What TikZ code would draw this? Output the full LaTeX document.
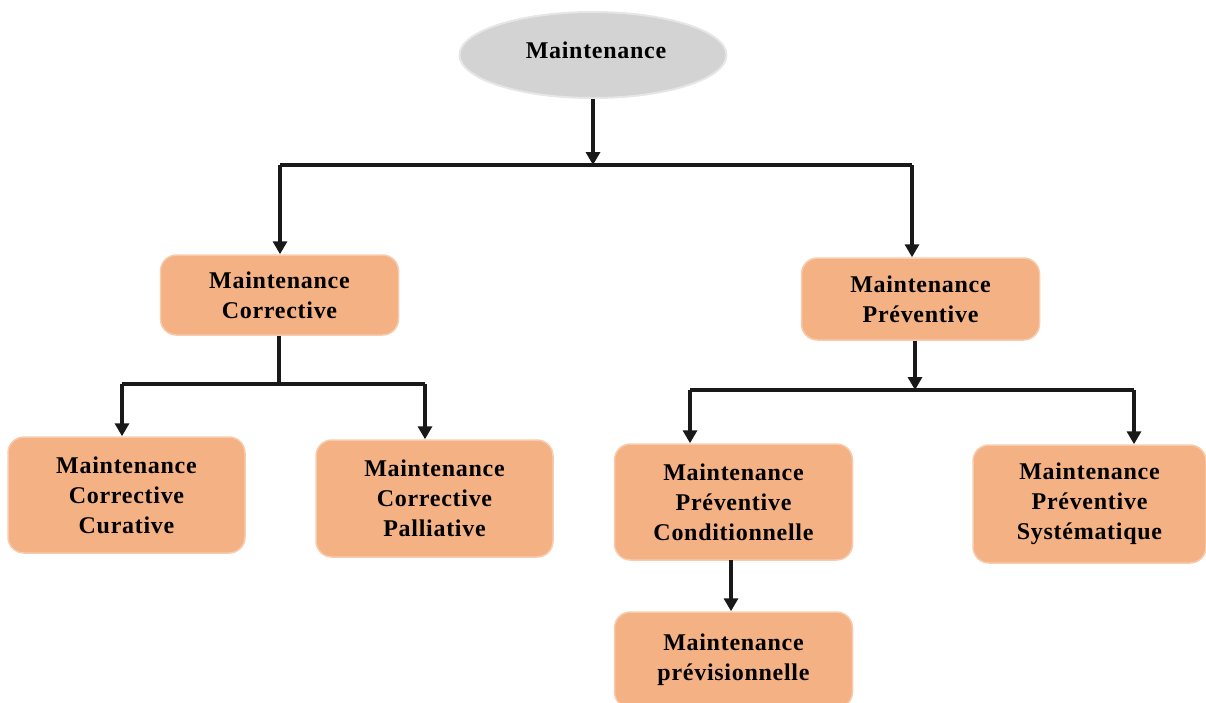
\documentclass[tikz,border=0pt]{standalone}
\usepackage{fontspec}
\setmainfont{Liberation Serif}
\newfontfamily\lblfont[LetterSpace=3]{Liberation Serif}
\usetikzlibrary{arrows.meta,shapes.geometric}
\definecolor{boxfill}{HTML}{F4B183}
\definecolor{boxline}{HTML}{F8CBAD}
\definecolor{ellfill}{HTML}{D3D3D3}
\definecolor{ellline}{HTML}{E6E6E6}
\tikzset{
  lbl/.style={font=\lblfont\fontsize{24}{30}\selectfont\bfseries},
  box/.style={draw=boxline, line width=1.5pt, fill=boxfill, rounded corners=16pt,
    minimum width=238pt, align=center, lbl, inner sep=0pt},
  conn/.style={line width=3.8pt, black!90},
  arr/.style={conn, -{Triangle[length=13pt,width=14pt]}},
}
\begin{document}
\begin{tikzpicture}[x=1pt,y=-1pt]
\useasboundingbox (0,0) rectangle (1206,702);
\node[ellipse, draw=ellline, line width=2pt, fill=ellfill, minimum width=267pt, minimum height=86pt] (root) at (593,55) {};
\node[lbl] (roottext) at (596,50) {Maintenance};
\node[box, minimum height=80pt] (mc) at (279.5,295) {Maintenance\\Corrective};
\node[box, minimum height=82pt] (mp) at (920.5,299) {Maintenance\\Préventive};
\node[box, minimum width=237pt, minimum height=116pt] (mcc) at (126.5,495) {Maintenance\\Corrective\\Curative};
\node[box, minimum width=237pt, minimum height=117pt] (mcp) at (434.5,498.5) {Maintenance\\Corrective\\Palliative};
\node[box, minimum height=116pt] (mpc) at (733.5,502) {Maintenance\\Préventive\\Conditionnelle};
\node[box, minimum width=233pt, minimum height=118pt] (mps) at (1089.5,504) {Maintenance\\Préventive\\Systématique};
\node[box, minimum height=96pt] (mpv) at (733.5,660) {Maintenance\\prévisionnelle};

\coordinate (j0) at (593,165);
\coordinate (j0l) at (280,165);
\coordinate (j0r) at (912,165);
\coordinate (j1) at (279,384);
\coordinate (j1l) at (122,384);
\coordinate (j1r) at (425,384);
\coordinate (j2) at (915,390);
\coordinate (j2l) at (690,390);
\coordinate (j2r) at (1134,390);

\draw[arr] (root.south) -- (j0);
\draw[conn] (j0l) -- (j0r);
\draw[arr] (j0l) -- (j0l |- mc.north);
\draw[arr] (j0r) -- (j0r |- mp.north);

\draw[conn] (mc.south -| j1) -- (j1);
\draw[conn] (j1l) -- (j1r);
\draw[arr] (j1l) -- (j1l |- mcc.north);
\draw[arr] (j1r) -- (j1r |- mcp.north);

\draw[arr] (j2 |- mp.south) -- (j2);
\draw[conn] (j2l) -- (j2r);
\draw[arr] (j2l) -- (j2l |- mpc.north);
\draw[arr] (j2r) -- (j2r |- mps.north);

\coordinate (c5) at (731,560);
\draw[arr] (c5) -- (c5 |- mpv.north);
\end{tikzpicture}
\end{document}
